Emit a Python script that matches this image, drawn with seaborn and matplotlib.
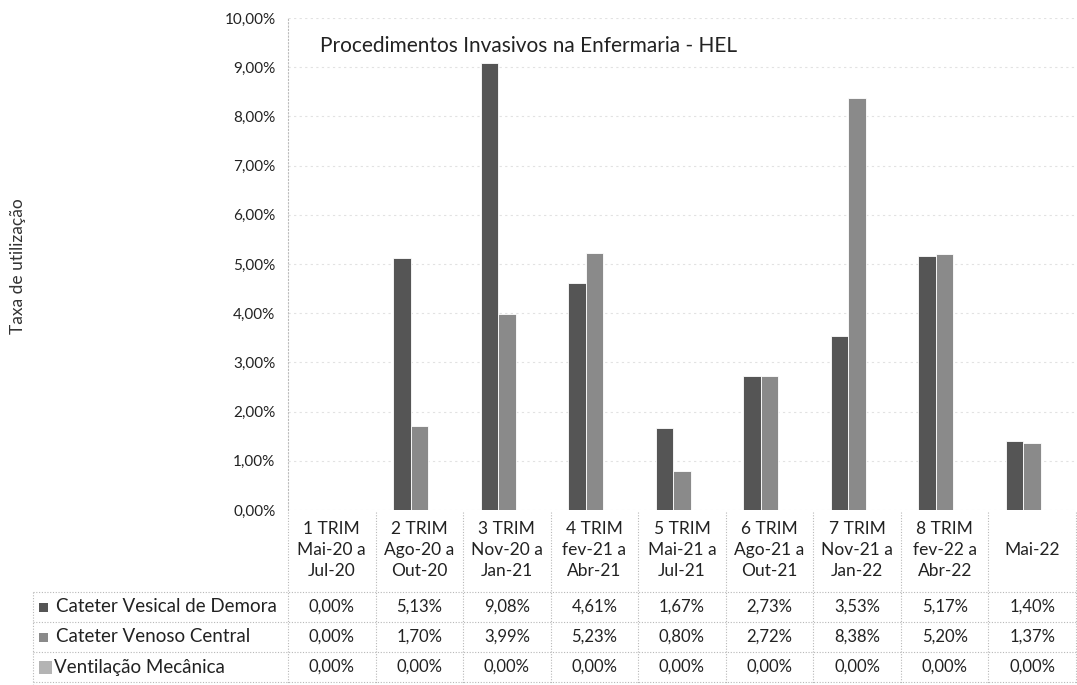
import matplotlib
matplotlib.use("Agg")
import matplotlib.pyplot as plt
import matplotlib.transforms as mtransforms
from matplotlib.patches import Rectangle
from matplotlib.lines import Line2D
import pandas as pd
import seaborn as sns

# ---- data ----
periodos = ["1 TRIM\nMai-20 a\nJul-20", "2 TRIM\nAgo-20 a\nOut-20", "3 TRIM\nNov-20 a\nJan-21",
            "4 TRIM\nfev-21 a\nAbr-21", "5 TRIM\nMai-21 a\nJul-21", "6 TRIM\nAgo-21 a\nOut-21",
            "7 TRIM\nNov-21 a\nJan-22", "8 TRIM\nfev-22 a\nAbr-22", "Mai-22"]
series = ["Cateter Vesical de Demora", "Cateter Venoso Central", "Ventilação Mecânica"]
vesical = [0.0000, 0.0513, 0.0908, 0.0461, 0.0167, 0.0273, 0.0353, 0.0517, 0.0140]
venoso = [0.0000, 0.0170, 0.0399, 0.0523, 0.0080, 0.0272, 0.0838, 0.0520, 0.0137]
ventilacao = [0.0, 0.0, 0.0, 0.0, 0.0, 0.0, 0.0, 0.0, 0.0]
y_ticks = [0.00, 0.01, 0.02, 0.03, 0.04, 0.05, 0.06, 0.07, 0.08, 0.09, 0.10]

colors = ["#555555", "#8a8a8a", "#b4b4b4"]

df = pd.DataFrame({
    "periodo": periodos * 3,
    "serie": [s for s in series for _ in periodos],
    "taxa": vesical + venoso + ventilacao,
})


def pct(v):
    return f"{v * 100:.2f}%".replace(".", ",")


W, H = 1077, 685
sns.set_theme(style="white")
plt.rcParams["font.family"] = ["Lato", "DejaVu Sans"]

fig = plt.figure(figsize=(W / 100, H / 100), dpi=100)


def fx(px):
    return px / W


def fy(py):
    return 1 - py / H


ax_left, ax_right, ax_top, ax_bottom = 288, 1076, 18, 510
ax = fig.add_axes([fx(ax_left), fy(ax_bottom), fx(ax_right) - fx(ax_left), fy(ax_top) - fy(ax_bottom)])

sns.barplot(data=df, x="periodo", y="taxa", hue="serie", order=periodos, hue_order=series,
            palette=colors, width=0.6, edgecolor="white", linewidth=0.6, legend=False, ax=ax)

ax.set_xlim(-0.5, len(periodos) - 0.5)
ax.set_ylim(0, 0.10)
ax.set_yticks(y_ticks)
ax.set_yticklabels([pct(t) for t in y_ticks], fontsize=11, color="#222222")
ax.set_xticks([])
ax.set_xlabel("")
ax.set_ylabel("")
ax.tick_params(axis="y", length=0, pad=9)
ax.yaxis.grid(True, color="#e2e2e2", linestyle=(0, (2, 3)), linewidth=0.8)
ax.set_axisbelow(True)
for side in ["top", "right", "bottom"]:
    ax.spines[side].set_visible(False)
ax.spines["left"].set_color("#bbbbbb")
ax.spines["left"].set_linestyle((0, (1, 2)))
ax.spines["left"].set_linewidth(0.8)

ax.text(fx(320), fy(46), "Procedimentos Invasivos na Enfermaria - HEL", transform=fig.transFigure,
        fontsize=15, color="#222222", ha="left", va="center")
fig.text(fx(18), fy(266), "Taxa de utilização", rotation=90, fontsize=12.5, color="#333333",
         ha="center", va="center")

# ---- data table below the axis ----
xt = mtransforms.blended_transform_factory(ax.transData, fig.transFigure)
grid_kw = dict(color="#b8b8b8", linestyle=(0, (1, 1.5)), linewidth=0.8)
tbl_top = 512
row_lines = [592, 622, 652, 682]
tbl_left = 33

for i in range(len(periodos) + 1):
    x = i - 0.5
    fig.add_artist(Line2D([x, x], [fy(tbl_top), fy(684)], transform=xt, **grid_kw))
for r in row_lines:
    fig.add_artist(Line2D([fx(tbl_left), fx(ax_right)], [fy(r), fy(r)], transform=fig.transFigure, **grid_kw))
fig.add_artist(Line2D([fx(tbl_left), fx(tbl_left)], [fy(592), fy(684)], transform=fig.transFigure, **grid_kw))

for i, lab in enumerate(periodos):
    fig.text(i, fy(550), lab, transform=xt, ha="center", va="center", fontsize=12.5,
             linespacing=1.42, color="#222222")

row_centers = [607, 637, 667]
key_sizes = [9, 9, 13]
for r, (name, vals, c) in enumerate(zip(series, [vesical, venoso, ventilacao], colors)):
    yc = row_centers[r]
    k = key_sizes[r]
    fig.add_artist(Rectangle((fx(39), fy(yc + k / 2)), fx(k), fy(yc - k / 2) - fy(yc + k / 2),
                             transform=fig.transFigure, facecolor=c, edgecolor="none"))
    fig.text(fx(56) if k < 10 else fx(54), fy(yc), name, ha="left", va="center", fontsize=13.5,
             color="#222222")
    for i, v in enumerate(vals):
        fig.text(i, fy(yc), pct(v), transform=xt, ha="center", va="center", fontsize=12,
                 color="#222222")

fig.savefig("out.png", dpi=100, facecolor="white")
